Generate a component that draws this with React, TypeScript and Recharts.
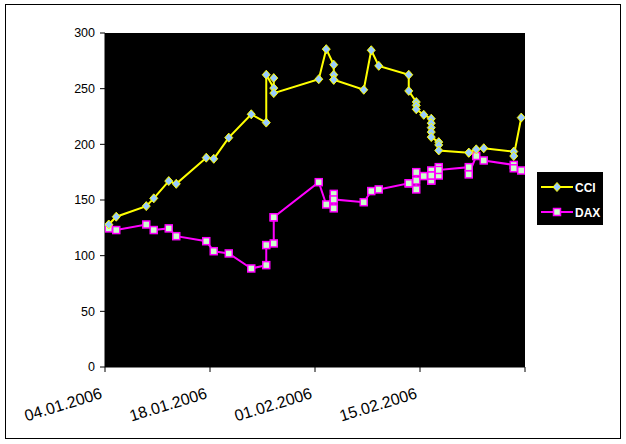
import { LineChart, Line, XAxis, YAxis, CartesianGrid, Legend } from 'recharts'

const dates = [
  '04.01.2006', '05.01.2006', '09.01.2006', '10.01.2006', '12.01.2006', '13.01.2006',
  '17.01.2006', '18.01.2006', '20.01.2006', '23.01.2006', '25.01.2006', '25.01.2006',
  '26.01.2006', '26.01.2006', '26.01.2006', '01.02.2006', '02.02.2006', '03.02.2006',
  '03.02.2006', '03.02.2006', '03.02.2006', '07.02.2006', '08.02.2006', '09.02.2006',
  '13.02.2006', '13.02.2006', '14.02.2006', '14.02.2006', '14.02.2006', '15.02.2006',
  '16.02.2006', '16.02.2006', '16.02.2006', '16.02.2006', '16.02.2006', '17.02.2006',
  '17.02.2006', '17.02.2006', '21.02.2006', '21.02.2006', '22.02.2006', '23.02.2006',
  '27.02.2006', '27.02.2006', '28.02.2006'
]

const cci = [
  128, 135, 144.5, 151.5, 167, 164.5,
  188, 187, 206, 227, 219.5, 262.5,
  250.5, 259.5, 246, 258.5, 285.5, 271.5,
  262.5, 258, 258, 249, 284.5, 270.5,
  262.5, 248, 238, 235, 231.5, 226.5,
  223, 219, 215, 211, 206.5, 202,
  199.5, 194.5, 192.5, 192.5, 195.5, 196.5,
  193.5, 189.5, 224
]

const dax = [
  124.5, 123, 128, 123, 124.5, 117.5,
  113, 104, 102, 88.5, 91.5, 109.5,
  111, 134.5, 134.5, 166, 146, 150.5,
  155.5, 142.5, 150.5, 148, 158, 159.5,
  165, 165, 159.5, 167.5, 175, 171.5,
  176.5, 167.5, 167.5, 172, 172, 172,
  179.5, 177, 179.5, 173, 189.5, 185.5,
  181.5, 178.5, 176.5
]

const yTicks = [0, 50, 100, 150, 200, 250, 300]
const xTicks = [0, 14, 28, 42, 56]
const xTickLabels = ['04.01.2006', '18.01.2006', '01.02.2006', '15.02.2006', '']

const start = Date.UTC(2006, 0, 4)
function dayOffset(s: string) {
  const [d, m, y] = s.split('.').map(Number)
  return (Date.UTC(y, m - 1, d) - start) / 86400000
}

// Excel date axis: each day is a slot, the point sits in the middle of it
const data = dates.map((d, i) => ({ x: dayOffset(d) + 0.5, cci: cci[i], dax: dax[i] }))

const font = 'Arial, "Liberation Sans", sans-serif'

function Diamond(props: any) {
  const { cx, cy, index } = props
  if (cx == null || cy == null) return null
  return (
    <polygon
      key={`cci-${index}`}
      points={`${cx},${cy - 4.5} ${cx + 4},${cy} ${cx},${cy + 4.5} ${cx - 4},${cy}`}
      fill="#99CCFF"
      stroke="#FFFF00"
      strokeWidth={1}
    />
  )
}

function Square(props: any) {
  const { cx, cy, index } = props
  if (cx == null || cy == null) return null
  return (
    <rect
      key={`dax-${index}`}
      x={cx - 3.5}
      y={cy - 3.5}
      width={7}
      height={7}
      fill="#CCFFCC"
      stroke="#FF00FF"
      strokeWidth={1.5}
    />
  )
}

function DateTick(props: any) {
  const { x, y, payload } = props
  const label = xTickLabels[xTicks.indexOf(payload.value)]
  const ax = x - 2
  const ay = y + 24
  return (
    <text
      x={ax}
      y={ay}
      textAnchor="end"
      transform={`rotate(-17, ${ax}, ${ay})`}
      fontSize={16}
      fontFamily={font}
      fill="#000"
    >
      {label}
    </text>
  )
}

function LegendBox() {
  return (
    <svg width={66} height={53} style={{ display: 'block' }}>
      <rect x={0} y={0} width={66} height={53} fill="#000" />
      <line x1={4} y1={15} x2={36} y2={15} stroke="#FFFF00" strokeWidth={2} />
      <polygon points="20,10.5 24,15 20,19.5 16,15" fill="#99CCFF" stroke="#FFFF00" strokeWidth={1} />
      <text x={38} y={19.5} fill="#fff" fontSize={12} fontWeight="bold" fontFamily={font}>CCI</text>
      <line x1={4} y1={40} x2={36} y2={40} stroke="#FF00FF" strokeWidth={2} />
      <rect x={16.5} y={36.5} width={7} height={7} fill="#CCFFCC" stroke="#FF00FF" strokeWidth={1.5} />
      <text x={38} y={44.5} fill="#fff" fontSize={12} fontWeight="bold" fontFamily={font}>DAX</text>
    </svg>
  )
}

export default function App() {
  return (
    <div style={{ position: 'absolute', left: 0, top: 0, width: 626, height: 444, background: '#fff' }}>
      <div
        style={{
          position: 'absolute',
          left: 5,
          top: 4,
          width: 616,
          height: 435,
          border: '1px solid #000',
          boxSizing: 'border-box'
        }}
      />
      <LineChart
        width={626}
        height={444}
        data={data}
        margin={{ top: 33, right: 101, bottom: 27, left: 45 }}
      >
        <CartesianGrid fill="#000" stroke="none" horizontal={false} vertical={false} />
        <XAxis
          type="number"
          dataKey="x"
          domain={[0, 56]}
          ticks={xTicks}
          interval={0}
          allowDataOverflow
          height={50}
          tickSize={5}
          axisLine={{ stroke: '#000' }}
          tickLine={{ stroke: '#000' }}
          tick={<DateTick />}
        />
        <YAxis
          type="number"
          domain={[0, 300]}
          ticks={yTicks}
          interval={0}
          width={60}
          tickSize={5}
          tickMargin={5}
          axisLine={{ stroke: '#000' }}
          tickLine={{ stroke: '#000' }}
          tick={{ fill: '#000', fontSize: 12.5, fontFamily: font }}
        />
        <Legend
          layout="vertical"
          align="center"
          verticalAlign="middle"
          wrapperStyle={{ left: 537, top: 172, width: 66, height: 53 }}
          content={<LegendBox />}
        />
        <Line
          type="linear"
          dataKey="dax"
          name="DAX"
          stroke="#FF00FF"
          strokeWidth={2}
          dot={Square}
          activeDot={false}
          isAnimationActive={false}
        />
        <Line
          type="linear"
          dataKey="cci"
          name="CCI"
          stroke="#FFFF00"
          strokeWidth={2}
          dot={Diamond}
          activeDot={false}
          isAnimationActive={false}
        />
      </LineChart>
    </div>
  )
}
